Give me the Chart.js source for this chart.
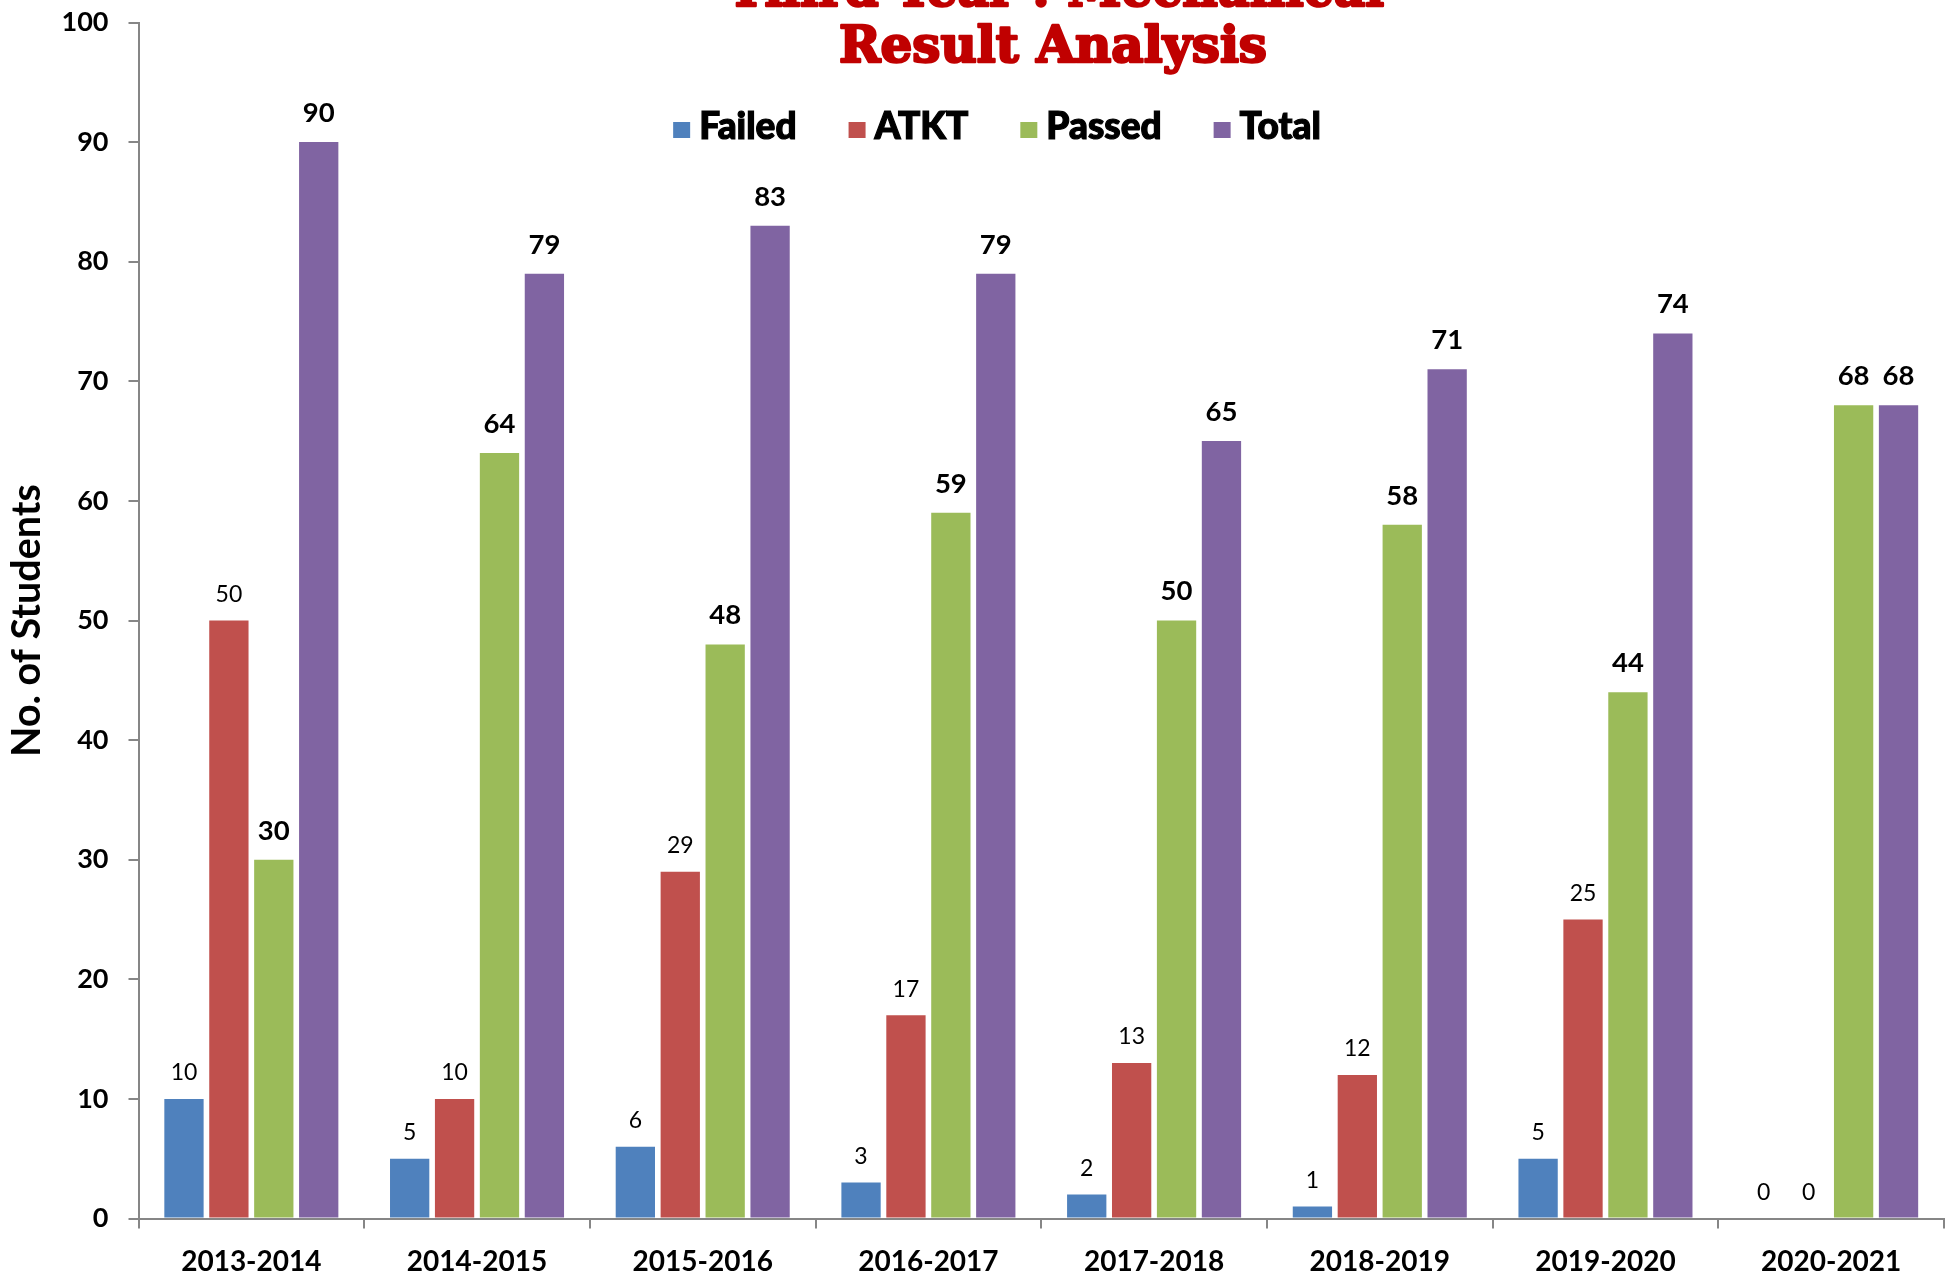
<!DOCTYPE html>
<html><head><meta charset="utf-8">
<script src="https://cdn.jsdelivr.net/npm/chart.js@4.4.1/dist/chart.umd.min.js"></script>
<style>html,body{margin:0;padding:0;background:#fff;overflow:hidden}canvas{display:block}</style>
</head><body>
<canvas id="c" width="1956" height="1275"></canvas>
<script>
const titleLines = ['Third Year : Mechanical', 'Result Analysis'];
const yAxisTitle = 'No. of Students';
const categories = ['2013-2014', '2014-2015', '2015-2016', '2016-2017', '2017-2018', '2018-2019', '2019-2020', '2020-2021'];
const seriesNames = ['Failed', 'ATKT', 'Passed', 'Total'];
const seriesColors = ['#4F81BD', '#C0504D', '#9BBB59', '#8064A2'];
const failed = [10, 5, 6, 3, 2, 1, 5, 0];
const atkt = [50, 10, 29, 17, 13, 12, 25, 0];
const passed = [30, 64, 48, 59, 50, 58, 44, 68];
const total = [90, 79, 83, 79, 65, 71, 74, 68];
const yMin = 0, yMax = 100, yStep = 10;

const seriesValues = [failed, atkt, passed, total];
const boldLabelSeries = [false, false, true, true];

const titlePlugin = {
  id: 'titlePlugin',
  afterDraw(chart) {
    const ctx = chart.ctx;
    ctx.save();
    ctx.fillStyle = '#C00000';
    ctx.strokeStyle = '#C00000';
    ctx.lineWidth = 2.5;
    ctx.lineJoin = 'round';
    ctx.textAlign = 'center';
    ctx.textBaseline = 'alphabetic';
    ctx.font = 'bold 50px "DejaVu Serif"';
    ctx.fillText(titleLines[0], 1056, 6, 656);
    ctx.strokeText(titleLines[0], 1056, 6, 656);
    ctx.fillText(titleLines[1], 1053, 62, 428);
    ctx.strokeText(titleLines[1], 1053, 62, 428);
    ctx.restore();
  }
};

const legendPlugin = {
  id: 'legendPlugin',
  afterDraw(chart) {
    const ctx = chart.ctx;
    ctx.save();
    ctx.font = '900 37px Lato';
    ctx.textBaseline = 'alphabetic';
    ctx.textAlign = 'left';
    ctx.lineWidth = 1.2;
    ctx.strokeStyle = '#000';
    const box = 17, boxH = 16, gap = 9, itemGap = 52;
    const items = chart.data.datasets.map(d => ({ label: d.label, color: d.backgroundColor, w: ctx.measureText(d.label).width }));
    let totalW = 0;
    items.forEach((it, i) => { totalW += box + gap + it.w + (i < items.length - 1 ? itemGap : 0); });
    let x = 997 - totalW / 2;
    items.forEach(it => {
      ctx.fillStyle = it.color;
      ctx.fillRect(x, 122, box, boxH);
      ctx.fillStyle = '#000';
      ctx.fillText(it.label, x + box + gap, 139);
      ctx.strokeText(it.label, x + box + gap, 139);
      x += box + gap + it.w + itemGap;
    });
    ctx.restore();
  }
};

const labelPlugin = {
  id: 'labelPlugin',
  afterDatasetsDraw(chart) {
    const ctx = chart.ctx;
    ctx.save();
    ctx.fillStyle = '#000';
    ctx.textAlign = 'center';
    ctx.textBaseline = 'middle';
    chart.data.datasets.forEach((ds, di) => {
      const meta = chart.getDatasetMeta(di);
      const bold = boldLabelSeries[di];
      ctx.font = bold ? 'bold 27.5px Lato' : '23px Lato';
      const off = bold ? 29 : 26;
      meta.data.forEach((el, i) => {
        ctx.fillText(String(ds.data[i]), el.x, el.y - off);
      });
    });
    ctx.restore();
  }
};

new Chart(document.getElementById('c'), {
  type: 'bar',
  data: {
    labels: categories,
    datasets: seriesNames.map((n, i) => ({
      label: n,
      data: seriesValues[i],
      backgroundColor: seriesColors[i],
      borderWidth: 0,
      categoryPercentage: 0.796,
      barPercentage: 0.875
    }))
  },
  options: {
    responsive: false,
    devicePixelRatio: 1,
    animation: false,
    layout: { padding: { top: 22.5, right: 12, left: 0, bottom: 0 } },
    plugins: { legend: { display: false }, title: { display: false }, tooltip: { enabled: false } },
    scales: {
      x: {
        ticks: { color: '#000', font: { family: 'Lato', weight: 'bold', size: 28 }, padding: 17, maxRotation: 0, autoSkip: false },
        grid: { drawOnChartArea: false, drawTicks: true, tickLength: 10, color: '#868686', lineWidth: 2, offset: true },
        border: { display: true, color: '#868686', width: 2 },
        afterFit(s) { s.height = 56.5; s.paddingLeft = 0; s.paddingRight = 0; }
      },
      y: {
        min: yMin, max: yMax,
        ticks: { stepSize: yStep, color: '#000', font: { family: 'Lato', weight: 'bold', size: 27 }, padding: 20 },
        grid: { drawOnChartArea: false, drawTicks: true, tickLength: 10, color: '#868686', lineWidth: 2 },
        border: { display: true, color: '#868686', width: 2 },
        title: { display: true, text: yAxisTitle, color: '#000', font: { family: 'Lato', weight: 'bold', size: 39.5 }, padding: { top: 4, bottom: 0 } },
        afterFit(s) { s.width = 138.5; s.paddingTop = 0; s.paddingBottom = 0; }
      }
    }
  },
  plugins: [labelPlugin, titlePlugin, legendPlugin]
});
</script>
</body></html>
